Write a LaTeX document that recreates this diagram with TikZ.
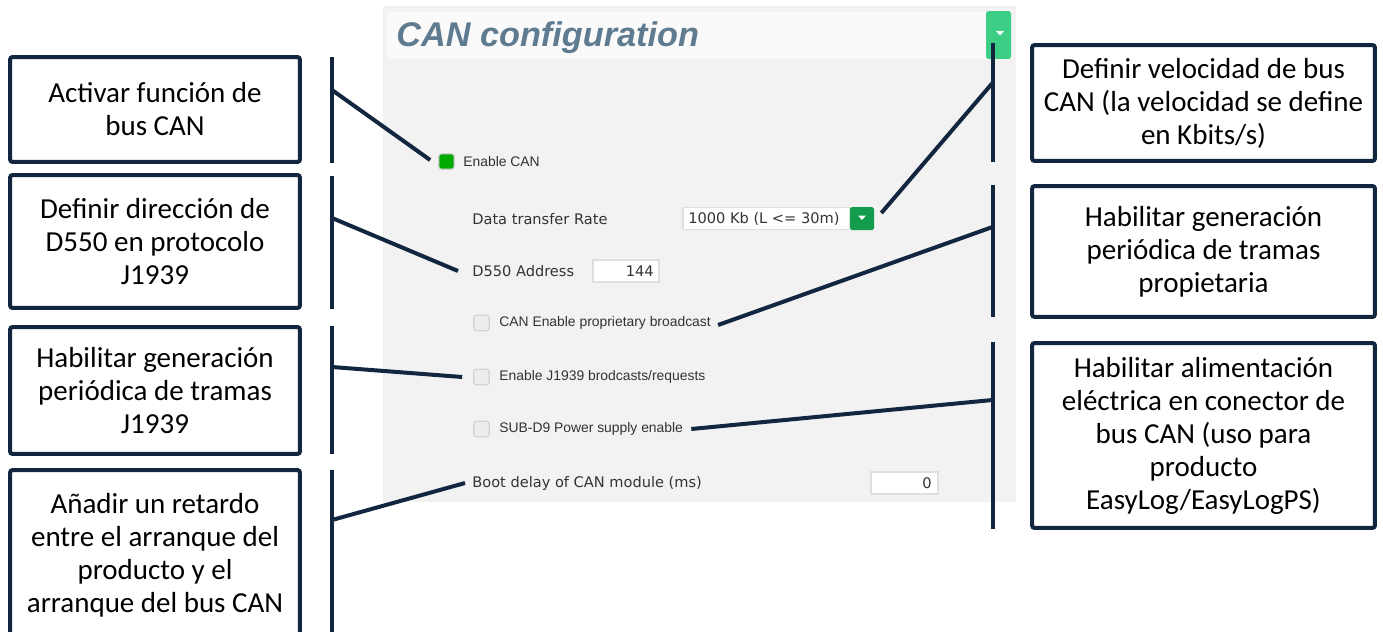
\documentclass[tikz,border=0pt]{standalone}
\usepackage{fontspec}
\setmainfont{Carlito}
\newfontfamily\uifont{DejaVu Sans}
\newfontfamily\cbfont{Liberation Sans}

\definecolor{navy}{RGB}{19,38,64}
\definecolor{panelgray}{RGB}{242,242,242}
\definecolor{headwhite}{RGB}{250,250,250}
\definecolor{titleblue}{RGB}{95,123,143}
\definecolor{hdrgreen}{RGB}{60,206,132}
\definecolor{ddgreen}{RGB}{18,156,76}
\definecolor{cbgreen}{RGB}{0,170,0}
\definecolor{uitext}{RGB}{51,51,51}

\begin{document}
\begin{tikzpicture}[x=0.02cm,y=-0.02cm,
  callbox/.style={draw=navy,line width=0.08cm,rounded corners=1.5pt,fill=white,align=center,inner sep=0pt,font=\fontsize{16.5}{18.8}\selectfont},
  bar/.style={navy,line width=0.08cm},
  uilabel/.style={anchor=west,inner sep=0pt,text=uitext,font=\uifont\fontsize{8.3}{10}\selectfont},
  cblabel/.style={anchor=west,inner sep=0pt,text=uitext,font=\cbfont\fontsize{7.9}{9.5}\selectfont},
  chkbox/.style={draw=gray!35,fill=gray!14,rounded corners=1.5pt,minimum size=0.31cm,inner sep=0pt,line width=0.7pt},
  inbox/.style={draw=gray!25,fill=white,minimum height=0.44cm,inner sep=0pt,line width=0.6pt}]
\useasboundingbox (0,0) rectangle (1383,632);
\clip (0,0) rectangle (1383,632);

% configuration panel
\fill[panelgray] (383,6) rectangle (1016,502);
\fill[headwhite,rounded corners=2pt] (387,12) rectangle (1011,59);
\draw node[anchor=base west,inner sep=0pt,text=titleblue,font=\cbfont\bfseries\itshape\fontsize{19.5}{22}\selectfont] (title) at (396,47) {CAN configuration};
\draw node[fill=hdrgreen,rounded corners=1.5pt,minimum width=0.5cm,minimum height=0.96cm,inner sep=0pt] (hdrbtn) at (998.5,35) {};
\fill[white] (996,31) -- (1004,31) -- (1000,35.5) -- cycle;

\draw node[chkbox,fill=cbgreen] (cbcan) at (446.5,161.5) {};
\draw node[cblabel] (lblcan) at (463,161.5) {Enable CAN};

\draw node[uilabel] (lblrate) at (472,219) {Data transfer Rate};
\draw node[inbox,minimum width=3.34cm] (ddrate) at (766.5,218.5) {};
\draw node[uilabel] (valrate) at (688,218.5) {1000 Kb (L <= 30m)};
\draw node[fill=ddgreen,rounded corners=1pt,minimum width=0.48cm,minimum height=0.46cm,inner sep=0pt] (ddbtn) at (862,218.5) {};
\fill[white] (858,215.5) -- (866,215.5) -- (862,220) -- cycle;

\draw node[uilabel] (lbladdr) at (472,271) {D550 Address};
\draw node[inbox,minimum width=1.32cm] (inaddr) at (626,271) {};
\draw node[uilabel,anchor=east] (valaddr) at (654,271) {144};

\draw node[chkbox] (cbprop) at (481.5,323) {};
\draw node[cblabel] (lblprop) at (499,323) {CAN Enable proprietary broadcast};
\draw node[chkbox] (cbj) at (481.5,377) {};
\draw node[cblabel] (lblj) at (499,377) {Enable J1939 brodcasts/requests};
\draw node[chkbox] (cbsub) at (481.5,429) {};
\draw node[cblabel] (lblsub) at (499,429) {SUB-D9 Power supply enable};

\draw node[uilabel] (lblboot) at (472,483) {Boot delay of CAN module (ms)};
\draw node[inbox,minimum width=1.34cm] (inboot) at (904.5,483) {};
\draw node[uilabel,anchor=east] (valboot) at (932,483) {0};

% explanation boxes
\draw node[callbox,minimum width=5.8cm,minimum height=2.1cm] (activar) at (155,109.5) {Activar función de\\bus CAN};
\draw node[callbox,minimum width=5.8cm,minimum height=2.66cm] (direccion) at (155,241.5) {Definir dirección de\\D550 en protocolo\\J1939};
\draw node[callbox,minimum width=5.8cm,minimum height=2.54cm] (tramasj) at (155,390.5) {Habilitar generación\\periódica de tramas\\J1939};
\draw node[callbox,minimum width=5.8cm,minimum height=3.42cm] (retardo) at (155,555.5) {Añadir un retardo\\entre el arranque del\\producto y el\\arranque del bus CAN};
\draw node[callbox,minimum width=6.86cm,minimum height=2.32cm] (velocidad) at (1203.5,103) {Definir velocidad de bus\\CAN (la velocidad se define\\en Kbits/s)};
\draw node[callbox,minimum width=6.86cm,minimum height=2.62cm] (tramasp) at (1203.5,251.5) {Habilitar generación\\periódica de tramas\\propietaria};
\draw node[callbox,minimum width=6.86cm,minimum height=3.7cm] (alimentacion) at (1203.5,435.5) {Habilitar alimentación\\eléctrica en conector de\\bus CAN (uso para\\producto\\EasyLog/EasyLogPS)};

% bars
\foreach \ya/\yb in {57/163,176/309,326/454,470/640}
  \draw[bar] (332,\ya) -- (332,\yb);
\foreach \ya/\yb in {43/162,185/317,342/529}
  \draw[bar] (992.5,\ya) -- (992.5,\yb);

\coordinate (ba1) at (332,90);
\coordinate (ba2) at (332,218);
\coordinate (ba3) at (332,367);
\coordinate (ba4) at (332,520);
\coordinate (bb1) at (992.5,83);
\coordinate (bb2) at (992.5,227);
\coordinate (bb3) at (992.5,400);

\draw[bar] (ba1) -- ([xshift=-0.16cm,yshift=0.03cm]cbcan.west);
\draw[bar] (ba2) -- ([xshift=-0.28cm]lbladdr.west);
\draw[bar] (ba3) -- ([xshift=-0.22cm]cbj.west);
\draw[bar] (ba4) -- ([xshift=-0.14cm]lblboot.west);
\draw[bar] (bb1) -- ([xshift=0.14cm,yshift=0.11cm]ddbtn.east);
\draw[bar] (bb2) -- ([xshift=0.14cm,yshift=-0.04cm]lblprop.east);
\draw[bar] (bb3) -- ([xshift=0.16cm]lblsub.east);
\end{tikzpicture}
\end{document}
